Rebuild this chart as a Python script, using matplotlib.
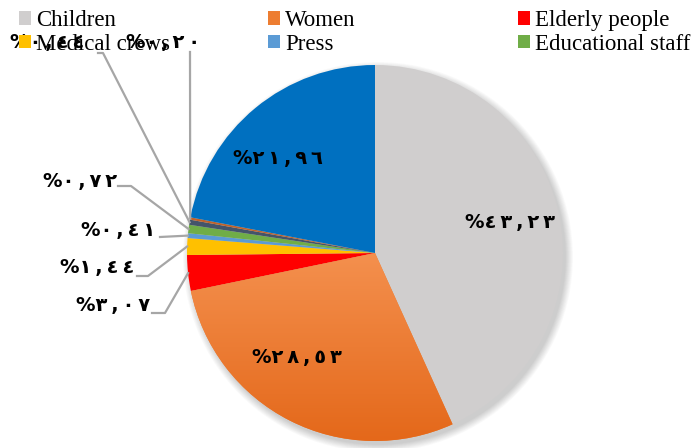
import numpy as np
import matplotlib.pyplot as plt
from matplotlib.patches import Patch, Circle
from matplotlib.colors import LinearSegmentedColormap

categories = ["Children", "Women", "Elderly people", "Medical crews", "Press",
              "Educational staff", "Other 1", "Other 2", "Other 3"]
shares = [43.23, 28.53, 3.07, 1.44, 0.41, 0.72, 0.44, 0.20, 21.96]
colors = ["#D0CECE", "#ED7D31", "#FF0000", "#FFC000", "#5B9BD5",
          "#70AD47", "#44546A", "#C0622A", "#0070C0"]
legend_count = 6

AR_DIGITS = str.maketrans("0123456789", "٠١٢٣٤٥٦٧٨٩")


def ar_label(v):
    s = f"{v:.2f}".replace(".", ",").translate(AR_DIGITS)
    return "%" + "\u2009".join(s)


# label layout in pixels from the top-left corner: text centre, then leader points
label_layout = {
    0: ((510, 222), None),
    1: ((297, 357), None),
    2: ((113, 305), [(152, 313), (165, 313)]),
    3: ((97, 267), [(137, 276), (148, 276)]),
    4: ((118, 230), [(160, 237)]),
    5: ((80, 181), [(118, 186), (131, 186)]),
    6: ((47, 42), [(98, 53), (103, 53)]),
    7: ((163, 42), [(190, 52)]),
    8: ((278, 158), None),
}

W, H = 700, 448
fig = plt.figure(figsize=(7, 4.48), dpi=100)
ax = fig.add_axes([0, 0, 1, 1])

cx, cy, r = 375, H - 253, 188

# soft shadow behind the pie
for k in range(10):
    ax.add_patch(Circle((cx + 3, cy - 4), r + 7 - k * 0.8, color="black",
                        alpha=0.02, lw=0, zorder=0))

wedges, _ = ax.pie(shares, colors=colors, startangle=90, counterclock=False,
                   center=(cx, cy), radius=r, wedgeprops=dict(linewidth=0))

# gradient on the women slice
grad = np.linspace(0, 1, 256).reshape(-1, 1)
cmap = LinearSegmentedColormap.from_list("orange", ["#F4904E", "#E4681A"])
im = ax.imshow(grad, cmap=cmap, extent=(cx - r, cx + r, cy - r, cy),
               origin="upper", aspect="auto", zorder=wedges[1].get_zorder() + 0.1)
im.set_clip_path(wedges[1])

for i, w in enumerate(wedges):
    (tx, ty), pts = label_layout[i]
    ax.text(tx, H - ty, ar_label(shares[i]), ha="center", va="center",
            fontsize=14, fontweight="bold", family="DejaVu Sans", zorder=5)
    if pts:
        mid = np.deg2rad((w.theta1 + w.theta2) / 2)
        ex, ey = cx + r * np.cos(mid), cy + r * np.sin(mid)
        xs = [p[0] for p in pts] + [ex]
        ys = [H - p[1] for p in pts] + [ey]
        ax.plot(xs, ys, color="#A6A6A6", lw=1.6, zorder=4)

ax.set_xlim(0, W)
ax.set_ylim(0, H)
ax.set_aspect("equal")
ax.axis("off")

handles = [Patch(facecolor=colors[i], label=categories[i]) for i in range(legend_count)]
col_x = [19, 268, 518]
for c in range(3):
    fig.legend(handles=[handles[c], handles[c + 3]], loc="upper left",
               bbox_to_anchor=(col_x[c] / W, 1 - 10 / H), frameon=False,
               borderpad=0, borderaxespad=0, handlelength=0.52, handleheight=0.52,
               handletextpad=0.22, labelspacing=0.12,
               prop={"family": "Liberation Serif", "size": 16.5})

fig.savefig("out.png", dpi=100)
